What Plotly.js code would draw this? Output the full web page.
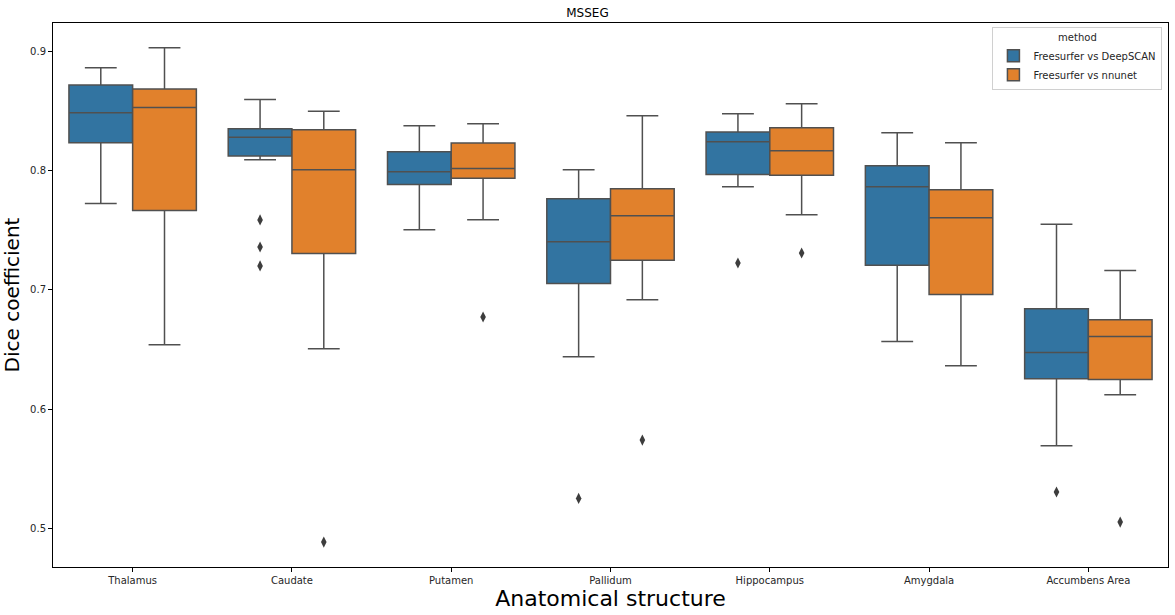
<!DOCTYPE html>
<html lang="en">
<head>
    <meta charset="UTF-8">
    <title>MSSEG</title>
    <script src="https://cdn.plot.ly/plotly-3.0.1.min.js"></script>
    <style>
        body { margin: 0; background: #fff; }
        #chart { width: 1175px; height: 615px; }
    </style>
</head>
<body>
    <div id="chart"></div>
    <script>
        const structures = ["Thalamus", "Caudate", "Putamen", "Pallidum", "Hippocampus", "Amygdala", "Accumbens Area"];
        const methods = ["Freesurfer vs DeepSCAN", "Freesurfer vs nnunet"];

        // box stats per structure
        const deepscanLow = [0.7725, 0.8091, 0.7504, 0.6439, 0.7865, 0.6567, 0.5692];
        const deepscanQ1 = [0.8234, 0.8122, 0.7884, 0.7054, 0.7968, 0.7205, 0.6254];
        const deepscanMed = [0.8486, 0.8279, 0.7991, 0.7404, 0.8242, 0.7865, 0.6475];
        const deepscanQ3 = [0.8718, 0.8352, 0.8159, 0.7764, 0.8324, 0.8041, 0.6841];
        const deepscanHigh = [0.8863, 0.8597, 0.8377, 0.8008, 0.8477, 0.8318, 0.7549];

        const nnunetLow = [0.6539, 0.6506, 0.7588, 0.6917, 0.7630, 0.6363, 0.6120];
        const nnunetQ1 = [0.7666, 0.7305, 0.7935, 0.7247, 0.7960, 0.6961, 0.6248];
        const nnunetMed = [0.8530, 0.8008, 0.8018, 0.7622, 0.8167, 0.7605, 0.6609];
        const nnunetQ3 = [0.8685, 0.8343, 0.8231, 0.7848, 0.8360, 0.7840, 0.6749];
        const nnunetHigh = [0.9031, 0.8497, 0.8393, 0.8461, 0.8561, 0.8234, 0.7163];

        // outliers: structure index + value
        const deepscanOutIdx = [1, 1, 1, 3, 4, 6];
        const deepscanOutVal = [0.7586, 0.7359, 0.7200, 0.5250, 0.7225, 0.5304];
        const nnunetOutIdx = [1, 2, 3, 4, 6];
        const nnunetOutVal = [0.4884, 0.6772, 0.5740, 0.7309, 0.5052];

        const colors = ["#3274a1", "#e1812c"];
        const lineColor = "#505050";
        const hueOffset = [-0.2, 0.2];
        const font = "DejaVu Sans, sans-serif";

        function boxTrace(k, low, q1, med, q3, high) {
            return {
                type: "box",
                name: methods[k],
                x: structures.map((s, i) => i + hueOffset[k]),
                lowerfence: low, q1: q1, median: med, q3: q3, upperfence: high,
                width: 0.4,
                whiskerwidth: 0.5,
                fillcolor: colors[k],
                line: { color: lineColor, width: 1.5 },
                boxpoints: false,
                hoverinfo: "y"
            };
        }

        function outlierTrace(k, idx, vals) {
            return {
                type: "scatter",
                mode: "markers",
                x: idx.map(i => i + hueOffset[k]),
                y: vals,
                marker: { symbol: "diamond-tall", size: 8, color: "#3d3d3d" },
                showlegend: false,
                hoverinfo: "y"
            };
        }

        const data = [
            boxTrace(0, deepscanLow, deepscanQ1, deepscanMed, deepscanQ3, deepscanHigh),
            boxTrace(1, nnunetLow, nnunetQ1, nnunetMed, nnunetQ3, nnunetHigh),
            outlierTrace(0, deepscanOutIdx, deepscanOutVal),
            outlierTrace(1, nnunetOutIdx, nnunetOutVal)
        ];

        const layout = {
            width: 1175,
            height: 615,
            margin: { l: 53, r: 7, t: 23, b: 48 },
            paper_bgcolor: "#fff",
            plot_bgcolor: "#fff",
            font: { family: font, size: 10, color: "#262626" },
            boxmode: "overlay",
            title: {
                text: "MSSEG",
                font: { family: font, size: 12, color: "#000" },
                x: 0.5, xanchor: "center", y: 0.98, yanchor: "middle"
            },
            xaxis: {
                range: [-0.5, 6.5],
                tickvals: structures.map((s, i) => i),
                ticktext: structures,
                ticks: "outside", ticklen: 4, tickcolor: "#000",
                showline: true, mirror: true, linecolor: "#000", linewidth: 1,
                showgrid: false, zeroline: false,
                title: { text: "Anatomical structure", font: { family: font, size: 22, color: "#000" }, standoff: 2 }
            },
            yaxis: {
                range: [0.4675, 0.9238],
                tickvals: [0.5, 0.6, 0.7, 0.8, 0.9],
                ticktext: ["0.5", "0.6", "0.7", "0.8", "0.9"],
                ticks: "outside", ticklen: 4, tickcolor: "#000",
                showline: true, mirror: true, linecolor: "#000", linewidth: 1,
                showgrid: false, zeroline: false,
                title: { text: "Dice coefficient", font: { family: font, size: 20, color: "#000" }, standoff: 6 }
            },
            legend: {
                x: 0.995, xanchor: "right", y: 0.992, yanchor: "top",
                bgcolor: "#fff", bordercolor: "#d0d0d0", borderwidth: 1,
                font: { family: font, size: 10, color: "#262626" },
                title: { text: "method", side: "top center", font: { family: font, size: 10 } },
                itemwidth: 30,
                tracegroupgap: 0
            },
            showlegend: true
        };

        Plotly.newPlot("chart", data, layout, { displayModeBar: false, staticPlot: true });
    </script>
</body>
</html>
